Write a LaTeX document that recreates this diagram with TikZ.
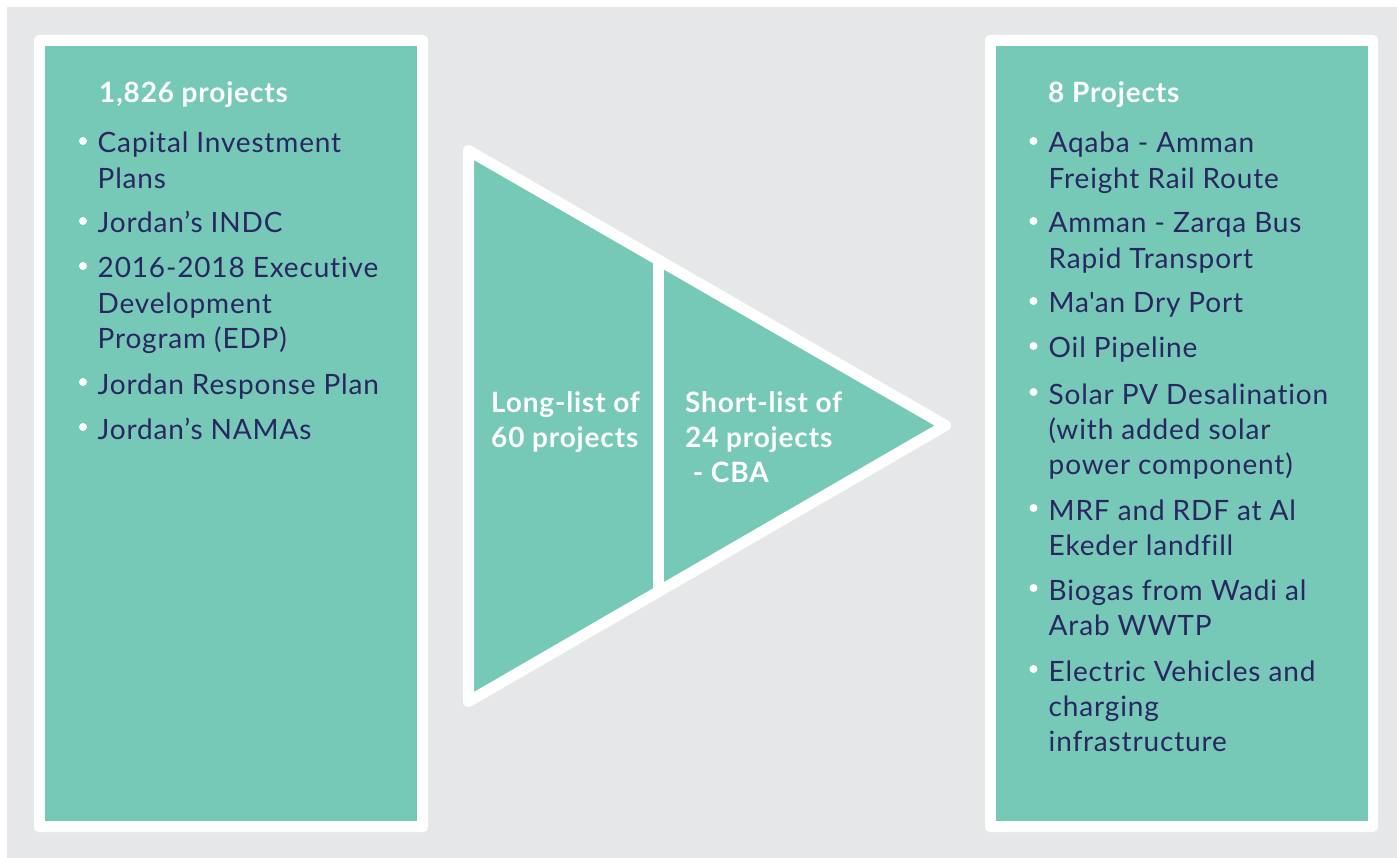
\documentclass[tikz,border=0pt]{standalone}
\usepackage{fontspec}
\setmainfont{Lato}[Ligatures=NoCommon, LetterSpace=3]
\definecolor{bg}{HTML}{E6E7E8}
\definecolor{teal}{HTML}{76C9B7}
\definecolor{navy}{HTML}{2A2661}
\tikzset{
  txt/.style={anchor=base west, inner sep=0pt, text=navy, font=\fontsize{28}{33}\selectfont},
  head/.style={anchor=base west, inner sep=0pt, text=white, font=\fontsize{28}{33}\selectfont\bfseries},
  mid/.style={anchor=base west, inner sep=0pt, text=white, font=\fontsize{28}{33}\selectfont\bfseries},
  bul/.style={circle, fill=white, inner sep=0pt, minimum size=8pt},
}
\begin{document}
\begin{tikzpicture}[x=1pt,y=-1pt]
\useasboundingbox (0,0) rectangle (1397,858);
\fill[white] (0,0) rectangle (1397,858);
\fill[bg] (7,7) rectangle (1397,858);
% boxes
\fill[white, rounded corners=5pt] (34,35) rectangle (428,832);
\fill[teal] (45,46) rectangle (417,821);
\fill[white, rounded corners=5pt] (985,35) rectangle (1378,832);
\fill[teal] (996,46) rectangle (1368,821);
% funnel triangle
\coordinate (tA) at (468.5,150.5);
\coordinate (tB) at (945.5,425.5);
\coordinate (tC) at (468.5,701.5);
\fill[teal] (tA) -- (tB) -- (tC) -- cycle;
\begin{scope}
\clip (tA) -- (tB) -- (tC) -- cycle;
\draw[white, line width=11pt] (658.5,100) -- (658.5,750);
\end{scope}
\draw[white, line width=11pt, line join=round] (tA) -- (tB) -- (tC) -- cycle;
% middle texts
\node[mid] (m1) at (491,412) {Long-list of};
\node[mid] (m2) at (491,447) {60 projects};
\node[mid] (m3) at (685,412) {Short-list of};
\node[mid] (m4) at (685,447) {24 projects};
\node[mid] (m5) at (685,482) {\ - CBA};
% left box
\node[head] (lh) at (99,103) {1,826 projects};
\foreach \y in {141,221,266,382,427} \node[bul] at (83,\y) {};
\node[txt] (l1) at (97.5,153) {Capital Investment};
\node[txt] (l2) at (97.5,188.3) {Plans};
\node[txt] (l3) at (97.5,233) {Jordan’s INDC};
\node[txt] (l4) at (97.5,278) {2016-2018 Executive};
\node[txt] (l5) at (97.5,313.3) {Development};
\node[txt] (l6) at (97.5,348.6) {Program (EDP)};
\node[txt] (l7) at (97.5,394) {Jordan Response Plan};
\node[txt] (l8) at (97.5,439) {Jordan’s NAMAs};
% right box
\node[head] (rh) at (1048,103) {8 Projects};
\foreach \y in {141,221,301,346,392,508,588,669} \node[bul] at (1033.5,\y) {};
\node[txt] (r1) at (1048.5,153) {Aqaba - Amman};
\node[txt] (r2) at (1048.5,188.3) {Freight Rail Route};
\node[txt] (r3) at (1048.5,233) {Amman - Zarqa Bus};
\node[txt] (r4) at (1048.5,268.3) {Rapid Transport};
\node[txt] (r5) at (1048.5,313) {Ma\textquotesingle an Dry Port};
\node[txt] (r6) at (1048.5,358) {Oil Pipeline};
\node[txt] (r7) at (1048.5,404) {Solar PV Desalination};
\node[txt] (r8) at (1048.5,439.3) {(with added solar};
\node[txt] (r9) at (1048.5,474.6) {power component)};
\node[txt] (r10) at (1048.5,520) {MRF and RDF at Al};
\node[txt] (r11) at (1048.5,555.3) {Ekeder landfill};
\node[txt] (r12) at (1048.5,600.5) {Biogas from Wadi al};
\node[txt] (r13) at (1048.5,635.8) {Arab WWTP};
\node[txt] (r14) at (1048.5,681) {Electric Vehicles and};
\node[txt] (r15) at (1048.5,716.3) {charging};
\node[txt] (r16) at (1048.5,751.6) {infrastructure};
\end{tikzpicture}
\end{document}
